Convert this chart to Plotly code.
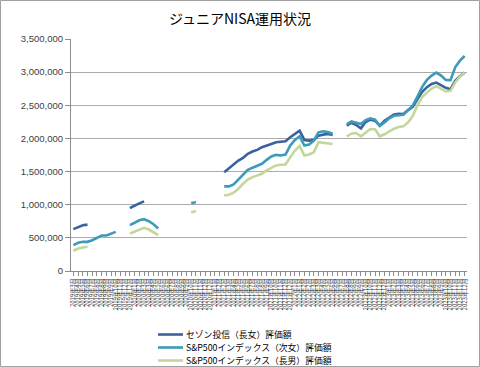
import plotly.graph_objects as go

# ---------------- data ----------------
labels = (
    ["2019年3月", "2019年4月", "2019年5月", "2019年6月", "2019年7月", "2019年8月", "2019年8月",
     "2019年9月", "2019年9月", "2019年10月", "2019年11月", "2019年12月", "2019年12月"]
    + ["2020年1月", "2020年2月", "2020年3月", "2020年3月", "2020年4月", "2020年5月", "2020年6月",
       "2020年6月", "2020年7月", "2020年8月", "2020年9月", "2020年9月", "2020年10月", "2020年11月",
       "2020年11月", "2020年12月", "2020年12月"]
    + ["2021年1月", "2021年2月", "2021年2月", "2021年3月", "2021年4月", "2021年5月", "2021年6月",
       "2021年6月", "2021年7月", "2021年8月", "2021年8月", "2021年9月", "2021年10月", "2021年10月",
       "2021年11月", "2021年12月", "2021年12月"]
    + ["2022年1月", "2022年1月", "2022年2月", "2022年2月", "2022年3月", "2022年3月", "2022年4月",
       "2022年5月", "2022年6月", "2022年6月", "2022年7月", "2022年8月", "2022年8月", "2022年9月",
       "2022年9月", "2022年10月", "2022年10月", "2022年11月", "2022年12月", "2022年12月"]
    + ["2023年1月", "2023年2月", "2023年3月", "2023年3月", "2023年4月", "2023年5月", "2023年6月",
       "2023年6月", "2023年7月", "2023年8月", "2023年9月", "2023年9月", "2023年10月", "2023年10月",
       "2023年11月", "2023年11月", "2023年12月"]
)

N = None
saison_eldest_daughter = (
    [631000, 665000, 690000, 700000] + [N] * 8
    + [951000, 991000, 1021000, 1051000] + [N] * 16
    + [1491000, 1551000, 1607000, 1667000, 1707000, 1767000, 1802000, 1827000, 1867000, 1897000,
       1917000, 1942000, 1952000, 1957000, 2017000, 2067000, 2117000, 1977000, 1967000, 1977000,
       2042000, 2057000, 2067000, 2052000]
    + [N] * 2
    + [2192000, 2237000, 2202000, 2152000, 2247000, 2283000, 2267000, 2192000, 2267000, 2312000,
       2362000, 2372000, 2367000, 2427000, 2477000, 2593000, 2703000, 2773000, 2823000, 2843000,
       2803000, 2763000, 2743000, 2868000, 2938000, 2993000]
)

sp500_second_daughter = (
    [390000, 425000, 440000, 440000, 465000, 505000, 535000, 535000, 560000, 590000] + [N] * 2
    + [691000, 726000, 766000, 781000, 751000, 706000, 641000] + [N] * 6
    + [1026000, 1036000] + [N] * 5
    + [1276000, 1276000, 1306000, 1377000, 1457000, 1527000, 1557000, 1582000, 1617000, 1677000,
       1727000, 1752000, 1742000, 1757000, 1892000, 1977000, 2032000, 1892000, 1907000, 1967000,
       2092000, 2107000, 2097000, 2072000]
    + [N] * 2
    + [2217000, 2257000, 2237000, 2217000, 2277000, 2303000, 2283000, 2187000, 2242000, 2303000,
       2342000, 2353000, 2357000, 2427000, 2497000, 2633000, 2778000, 2883000, 2948000, 2993000,
       2948000, 2883000, 2878000, 3073000, 3173000, 3243000]
)

sp500_eldest_son = (
    [305000, 340000, 355000, 365000] + [N] * 8
    + [566000, 596000, 626000, 651000, 626000, 587000, 541000] + [N] * 6
    + [884000, 906000] + [N] * 5
    + [1141000, 1151000, 1181000, 1241000, 1316000, 1381000, 1416000, 1441000, 1467000, 1517000,
       1557000, 1592000, 1602000, 1607000, 1717000, 1817000, 1887000, 1742000, 1757000, 1792000,
       1942000, 1932000, 1927000, 1917000]
    + [N] * 2
    + [2032000, 2072000, 2082000, 2032000, 2087000, 2142000, 2137000, 2032000, 2062000, 2102000,
       2147000, 2172000, 2182000, 2242000, 2342000, 2502000, 2623000, 2693000, 2753000, 2788000,
       2748000, 2708000, 2718000, 2843000, 2933000, 2993000]
)

series_names = ["セゾン投信（長女）評価額", "S&P500インデックス（次女）評価額", "S&P500インデックス（長男）評価額"]
series_values = [saison_eldest_daughter, sp500_second_daughter, sp500_eldest_son]
series_colors = ["#3A62A0", "#3D9BB8", "#C4D79B"]

title_text = "ジュニアNISA運用状況"

# ---------------- figure ----------------
x_idx = list(range(len(labels)))

fig = go.Figure()
for name, vals, col in zip(series_names, series_values, series_colors):
    fig.add_trace(go.Scatter(
        x=x_idx, y=vals, name=name, mode="lines",
        line=dict(color=col, width=2.6), connectgaps=False, showlegend=False,
    ))

W, H = 480, 367
ml, mr, mt, mb = 71, 13, 39, 96
pw, ph = W - ml - mr, H - mt - mb


def px_x(px):
    return (px - ml) / pw


def px_y(py):
    return (H - mb - py) / ph


shapes = [dict(
    type="rect", xref="paper", yref="paper",
    x0=px_x(0.5), x1=px_x(W - 0.5), y0=px_y(H - 0.5), y1=px_y(0.5),
    line=dict(color="#A0A0A0", width=1), layer="below",
)]
annotations = []
# manual legend (vertical, compact like Excel)
leg_x0, leg_y0, leg_dy = 158, 334.5, 13
for k, (name, col) in enumerate(zip(series_names, series_colors)):
    yy = leg_y0 + k * leg_dy
    shapes.append(dict(type="line", xref="paper", yref="paper",
                       x0=px_x(leg_x0), x1=px_x(leg_x0 + 25), y0=px_y(yy), y1=px_y(yy),
                       line=dict(color=col, width=2.6)))
    annotations.append(dict(xref="paper", yref="paper", x=px_x(leg_x0 + 27), y=px_y(yy),
                            xanchor="left", yanchor="middle", text=name, showarrow=False,
                            borderpad=0,
                            font=dict(family="Noto Sans CJK JP", size=8.8, color="#000000")))

fig.update_layout(
    width=W, height=H,
    margin=dict(l=ml, r=mr, t=mt, b=mb, pad=0, autoexpand=False),
    paper_bgcolor="white", plot_bgcolor="white",
    font=dict(family="Noto Sans CJK JP", size=9, color="#404040"),
    title=dict(text=title_text, x=0.5, xanchor="center", y=1 - 19 / H, yanchor="middle",
               font=dict(family="Noto Sans CJK JP", size=14, color="#000000")),
    showlegend=False,
    shapes=shapes,
    annotations=annotations,
)

fig.update_yaxes(
    range=[0, 3500000], dtick=500000, tickformat=",d",
    showgrid=True, gridcolor="#ABABAB", gridwidth=1,
    showline=True, linecolor="#8C8C8C", linewidth=1,
    ticks="outside", ticklen=5, tickcolor="#8C8C8C",
    tickfont=dict(family="Liberation Sans", size=9.5, color="#404040"),
    zeroline=False, automargin=False,
)
fig.update_xaxes(
    range=[-0.5, len(labels) - 0.5],
    tickmode="array", tickvals=x_idx, ticktext=labels, tickangle=-90,
    showgrid=False, zeroline=False,
    showline=True, linecolor="#8C8C8C", linewidth=1,
    ticks="outside", ticklen=4, tickcolor="#8C8C8C",
    tickfont=dict(family="Noto Sans CJK JP", size=6, color="#333333"),
    automargin=False,
)

fig.write_html(
    "out.html",
    config={"displayModeBar": False},
    post_script="document.body.style.margin='0';document.body.style.overflow='hidden';",
)
